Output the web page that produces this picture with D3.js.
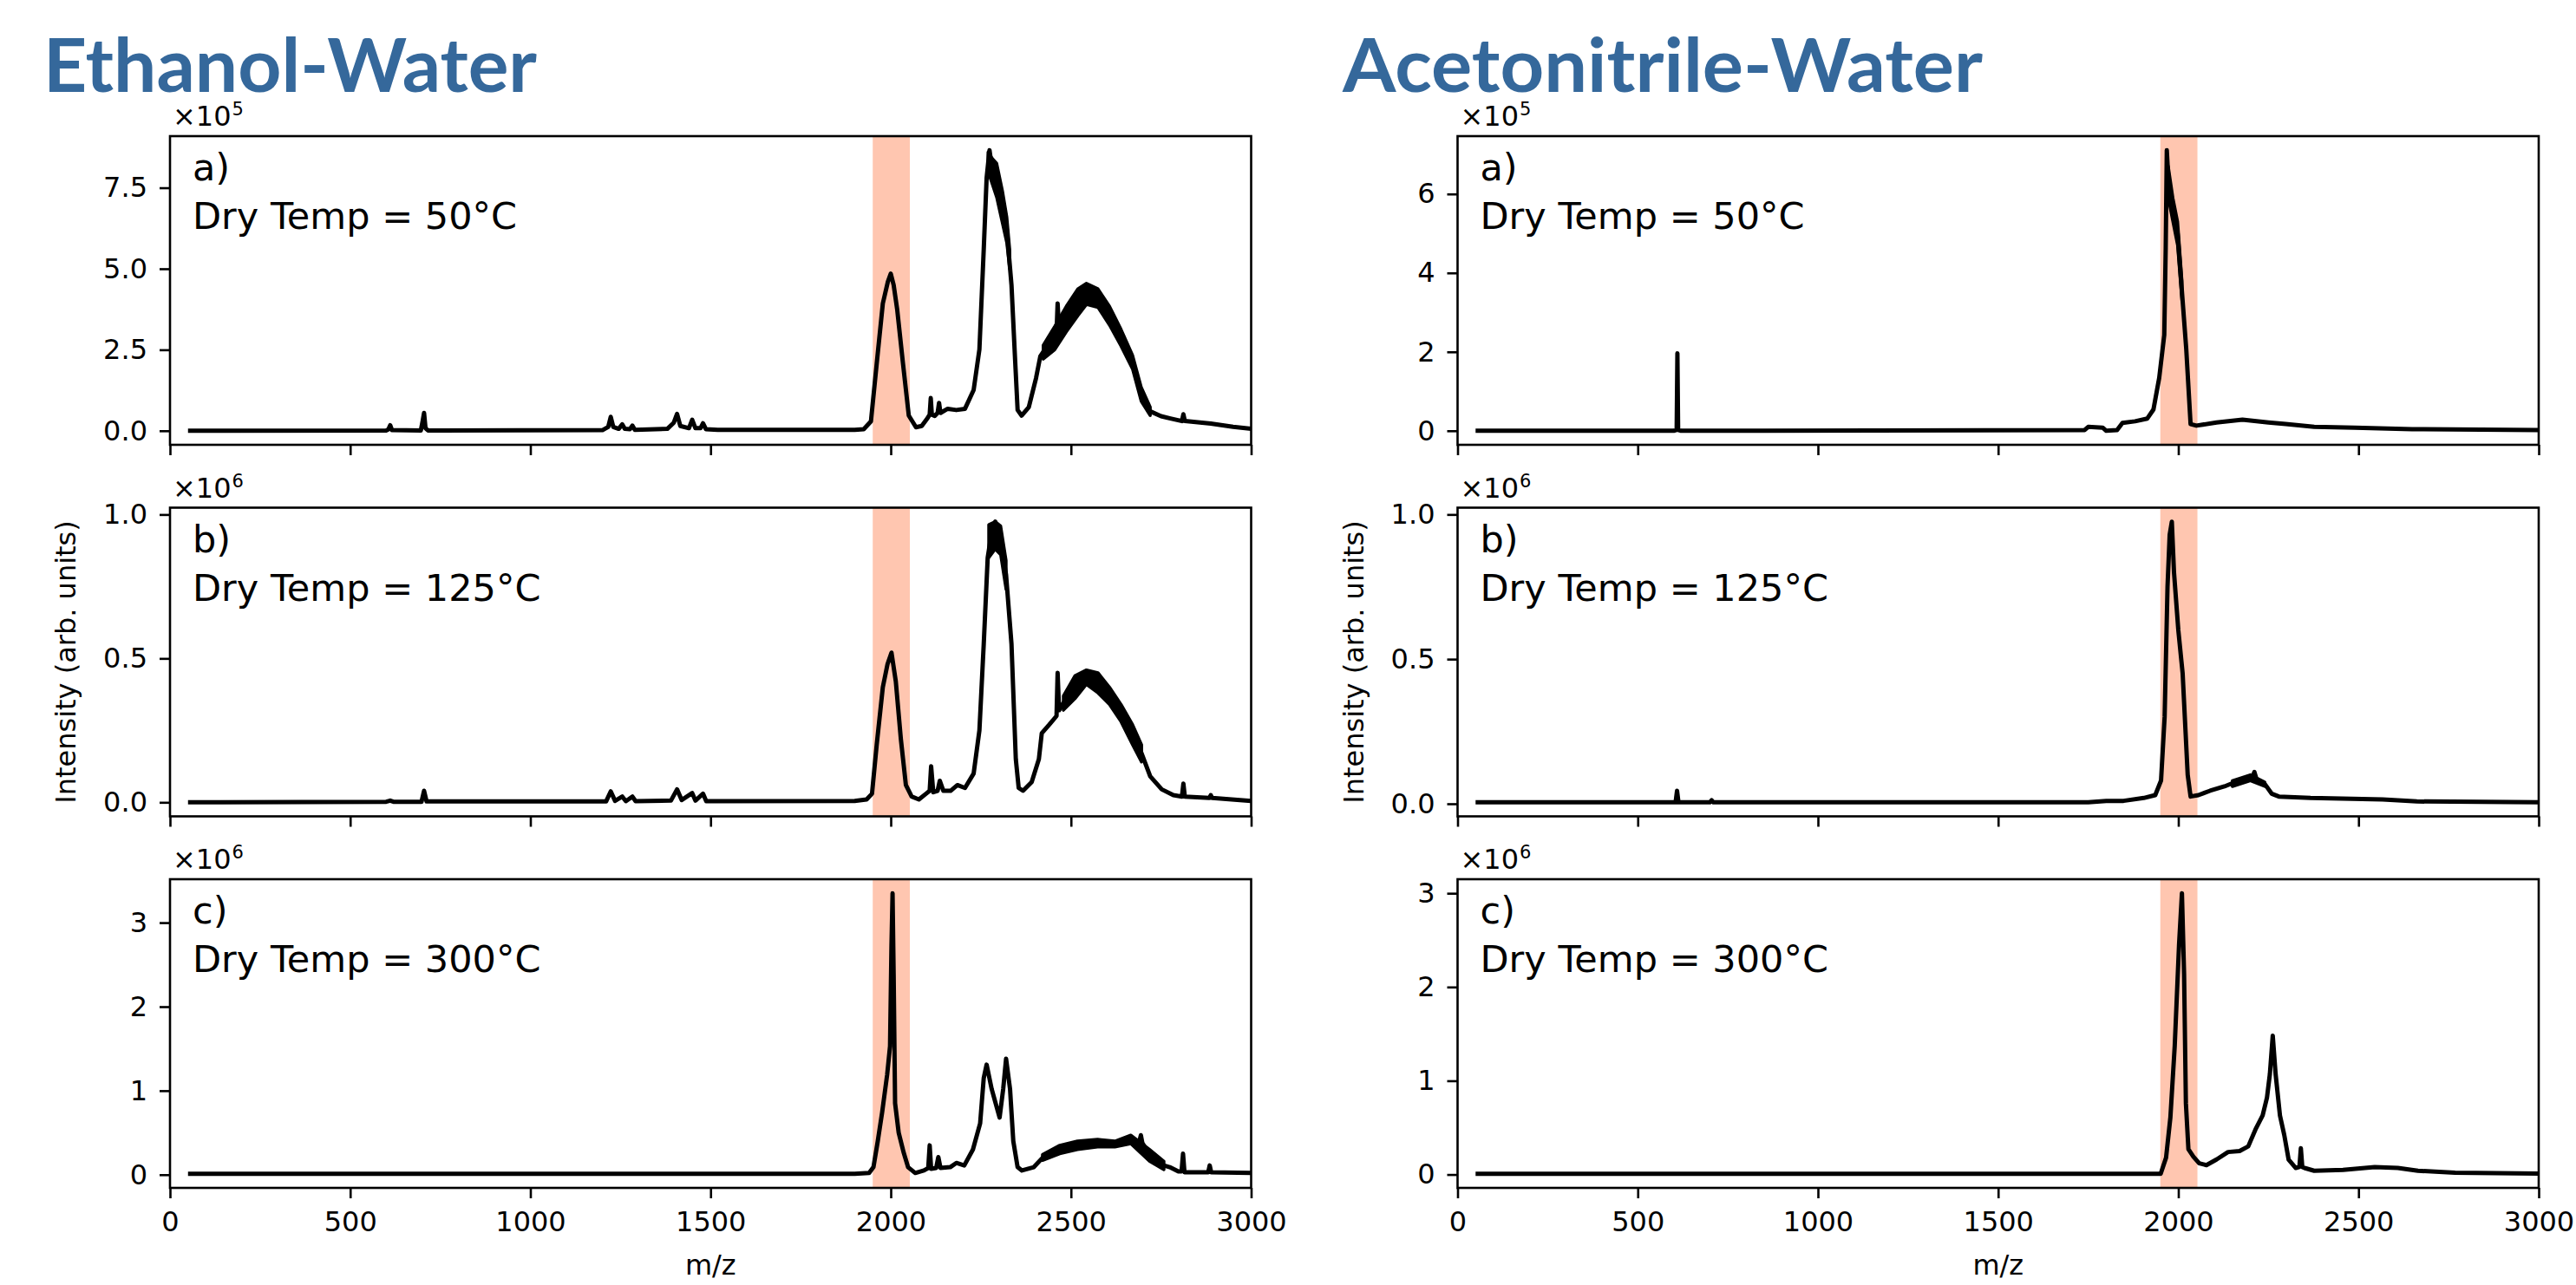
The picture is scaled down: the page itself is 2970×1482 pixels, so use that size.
<!DOCTYPE html>
<html>
<head>
<meta charset="utf-8">
<script src="https://cdn.jsdelivr.net/npm/d3@7"></script>
<style>
  body { margin: 0; background: #fff; }
  svg { display: block; }
</style>
</head>
<body>
<svg id="chart"></svg>
<script>
// ---- data ----
var solvents = ["Ethanol-Water", "Acetonitrile-Water"];
var panelLetters = ["a)", "b)", "c)"];
var dryTemps = ["50°C", "125°C", "300°C"];

var mzTicks = [0, 500, 1000, 1500, 2000, 2500, 3000];
var mzTickText = ["0", "500", "1000", "1500", "2000", "2500", "3000"];
var highlight = [1950, 2053];

// exponent of the x10^n offset shown above each panel
var ethanolExp = [5, 6, 6];
var acetoExp = [5, 6, 6];

var ethanolTicks = [[0, 2.5, 5, 7.5], [0, 0.5, 1], [0, 1, 2, 3]];
var ethanolTickText = [["0.0", "2.5", "5.0", "7.5"], ["0.0", "0.5", "1.0"], ["0", "1", "2", "3"]];
var acetoTicks = [[0, 2, 4, 6], [0, 0.5, 1], [0, 1, 2, 3]];
var acetoTickText = [["0", "2", "4", "6"], ["0.0", "0.5", "1.0"], ["0", "1", "2", "3"]];

// spectra: [m/z, intensity in units of 10^exp]
var ethanol50 = [[50,0],[600,0.01],[606,0.04],[611,0.17],[616,0.02],[696,0.01],[701,0.3],[705,0.55],[709,0.08],[716,0.01],
  [1200,0.02],[1216,0.12],[1223,0.43],[1230,0.12],[1245,0.06],[1255,0.2],[1262,0.06],[1276,0.05],[1283,0.16],[1290,0.03],
  [1380,0.06],[1398,0.25],[1407,0.52],[1416,0.15],[1440,0.08],[1449,0.34],[1458,0.08],[1472,0.08],[1479,0.23],[1487,0.05],
  [1520,0.03],[1900,0.03],[1925,0.05],[1945,0.29],[1961,2.07],[1978,3.93],[1992,4.6],[2000,4.85],[2008,4.5],[2018,3.73],
  [2034,2.07],[2050,0.47],[2070,0.11],[2086,0.15],[2102,0.39],[2108,0.5],[2111,1.01],[2114,0.5],[2122,0.46],[2130,0.55],
  [2134,0.86],[2138,0.55],[2158,0.68],[2182,0.64],[2206,0.68],[2230,1.26],[2246,2.51],[2258,5.6],[2266,7.8],[2274,8.66],
  [2282,8.0],[2294,7.75],[2310,6.9],[2322,6.2],[2335,4.5],[2345,2.2],[2352,0.64],[2363,0.47],[2383,0.73],[2403,1.62],
  [2415,2.3],[2423,2.43],[2447,2.9],[2460,3.0],[2463,3.93],[2467,3.1],[2487,3.45],[2519,3.95],[2543,4.2],[2575,4.1],
  [2607,3.55],[2639,2.87],[2671,2.1],[2695,1.13],[2720,0.6],[2750,0.45],[2776,0.38],[2808,0.3],[2812,0.51],[2816,0.3],
  [2888,0.22],[2950,0.12],[3000,0.06]];
var ethanol50Noise = [
  [[2270,8.0,8.6],[2282,7.6,8.4],[2294,7.2,8.25],[2310,6.4,7.4],[2322,5.8,6.6],[2330,5.0,5.6]],
  [[2423,2.21,2.64],[2455,2.5,3.22],[2487,3.05,3.84],[2519,3.55,4.38],[2543,3.9,4.55],[2575,3.81,4.38],
   [2607,3.26,3.84],[2639,2.61,3.13],[2671,1.9,2.33],[2695,0.91,1.35],[2720,0.47,0.73]]];

var ethanol125 = [[50,0],[600,0.002],[611,0.006],[620,0.002],[698,0.002],[705,0.04],[712,0.003],[1210,0.003],[1223,0.038],
  [1235,0.005],[1255,0.02],[1265,0.004],[1283,0.02],[1292,0.004],[1390,0.006],[1407,0.045],[1420,0.008],[1449,0.032],
  [1458,0.006],[1479,0.03],[1488,0.004],[1900,0.005],[1933,0.01],[1948,0.03],[1961,0.20],[1978,0.40],[1991,0.48],
  [2002,0.52],[2014,0.42],[2028,0.22],[2042,0.06],[2058,0.02],[2078,0.01],[2098,0.03],[2108,0.04],[2112,0.125],
  [2118,0.035],[2130,0.04],[2136,0.075],[2146,0.04],[2166,0.04],[2185,0.06],[2206,0.05],[2230,0.10],[2246,0.25],
  [2258,0.55],[2269,0.85],[2279,0.93],[2290,0.975],[2305,0.91],[2320,0.79],[2335,0.55],[2347,0.15],[2355,0.05],
  [2367,0.04],[2391,0.07],[2411,0.15],[2419,0.24],[2440,0.27],[2460,0.3],[2463,0.45],[2467,0.32],[2479,0.345],
  [2511,0.40],[2543,0.435],[2575,0.415],[2607,0.37],[2639,0.31],[2671,0.235],[2696,0.17],[2720,0.09],[2752,0.045],
  [2784,0.025],[2808,0.02],[2812,0.065],[2816,0.02],[2884,0.015],[2888,0.025],[2892,0.015],[3000,0.005]];
var ethanol125Noise = [
  [[2272,0.85,0.965],[2290,0.88,0.975],[2305,0.86,0.96],[2320,0.74,0.84]],
  [[2479,0.32,0.37],[2511,0.36,0.44],[2543,0.41,0.46],[2575,0.38,0.45],[2607,0.34,0.40],[2639,0.28,0.34],
   [2671,0.20,0.27],[2696,0.14,0.20]]];

var ethanol300 = [[50,0.01],[1900,0.01],[1940,0.02],[1952,0.09],[1964,0.40],[1976,0.74],[1990,1.19],[1998,1.53],
  [2002,2.73],[2005,3.35],[2008,2.39],[2012,0.85],[2022,0.50],[2036,0.26],[2048,0.09],[2068,0.02],[2092,0.05],
  [2104,0.08],[2108,0.35],[2112,0.07],[2126,0.08],[2132,0.21],[2138,0.08],[2165,0.09],[2182,0.14],[2204,0.11],
  [2228,0.30],[2248,0.61],[2258,1.15],[2266,1.31],[2280,1.02],[2302,0.68],[2312,1.02],[2320,1.38],[2331,1.02],
  [2340,0.40],[2352,0.09],[2364,0.05],[2397,0.09],[2421,0.2],[2469,0.3],[2518,0.35],[2574,0.37],[2622,0.37],
  [2666,0.42],[2690,0.40],[2694,0.47],[2698,0.38],[2718,0.23],[2758,0.11],[2774,0.09],[2798,0.04],[2807,0.04],
  [2811,0.25],[2815,0.03],[2881,0.03],[2885,0.11],[2889,0.03],[3000,0.02]];
var ethanol300Noise = [
  [[2421,0.17,0.24],[2469,0.25,0.35],[2518,0.30,0.40],[2574,0.33,0.42],[2622,0.33,0.40],[2666,0.37,0.47],
   [2718,0.16,0.30],[2758,0.06,0.16]]];

var aceto50 = [[50,0],[600,0],[608,0.02],[610,1.96],[612,0.02],[620,0],[1740,0.02],[1750,0.1],[1790,0.08],[1800,0.0],
  [1830,0.02],[1845,0.2],[1880,0.24],[1914,0.31],[1931,0.54],[1947,1.34],[1961,2.43],[1965,4.63],[1968,7.11],
  [1974,6.09],[1986,5.58],[1998,4.99],[2010,3.53],[2022,2.07],[2034,0.17],[2050,0.13],[2106,0.21],[2178,0.28],
  [2250,0.21],[2298,0.17],[2377,0.10],[2489,0.08],[2649,0.04],[3000,0.02]];
var aceto50Noise = [[[1972,5.9,6.7],[1985,5.3,5.9],[1998,4.7,5.3],[2010,3.3,3.8]]];

var aceto125 = [[50,0.005],[605,0.005],[609,0.045],[613,0.005],[700,0.005],[705,0.012],[710,0.005],[1750,0.005],
  [1800,0.01],[1848,0.01],[1904,0.02],[1936,0.03],[1952,0.08],[1962,0.30],[1970,0.75],[1976,0.93],[1982,0.975],
  [1988,0.80],[2000,0.60],[2012,0.45],[2026,0.10],[2034,0.025],[2056,0.03],[2088,0.045],[2128,0.06],[2168,0.08],
  [2192,0.09],[2205,0.09],[2211,0.11],[2217,0.085],[2223,0.08],[2239,0.07],[2259,0.035],[2279,0.025],[2367,0.02],
  [2567,0.015],[2662,0.008],[3000,0.005]];
var aceto125Noise = [[[2150,0.06,0.08],[2200,0.08,0.1],[2240,0.06,0.075]]];

var aceto300 = [[50,0.007],[1951,0.007],[1966,0.18],[1978,0.61],[1990,1.37],[2002,2.45],[2010,3.0],[2016,2.14],
  [2021,0.76],[2028,0.27],[2042,0.19],[2058,0.12],[2078,0.10],[2106,0.16],[2138,0.24],[2170,0.25],[2194,0.30],
  [2214,0.48],[2234,0.63],[2246,0.82],[2254,1.07],[2262,1.48],[2270,1.07],[2282,0.63],[2294,0.42],[2306,0.16],
  [2326,0.07],[2336,0.08],[2340,0.28],[2344,0.08],[2350,0.07],[2377,0.04],[2457,0.05],[2545,0.08],[2609,0.07],
  [2665,0.04],[2768,0.02],[3000,0.01]];
var aceto300Noise = [];

// ---- layout ----
var W = 2970, H = 1482;
var colX = [196, 1680.5], plotW = 1246.5;
var rowY = [157, 585.5, 1014], plotH = 356;
var font = "DejaVu Sans, sans-serif";

var svg = d3.select("#chart").attr("width", W).attr("height", H);

var panels = [];
[ethanol50, ethanol125, ethanol300].forEach(function (d, i) {
  panels.push({ col: 0, row: i, data: d, noise: [ethanol50Noise, ethanol125Noise, ethanol300Noise][i],
    ticks: ethanolTicks[i], tickText: ethanolTickText[i], exp: ethanolExp[i] });
});
[aceto50, aceto125, aceto300].forEach(function (d, i) {
  panels.push({ col: 1, row: i, data: d, noise: [aceto50Noise, aceto125Noise, aceto300Noise][i],
    ticks: acetoTicks[i], tickText: acetoTickText[i], exp: acetoExp[i] });
});

panels.forEach(drawPanel);

function drawPanel(p) {
  var g = svg.append("g")
    .attr("transform", "translate(" + colX[p.col] + "," + rowY[p.row] + ")");

  var x = d3.scaleLinear().domain([0, 3000]).range([0, plotW]);
  var lo = d3.min(p.data, function (d) { return d[1]; });
  var hi = d3.max(p.data, function (d) { return d[1]; });
  var pad = 0.05 * (hi - lo);   // matplotlib-style 5% margins
  var y = d3.scaleLinear().domain([lo - pad, hi + pad]).range([plotH, 0]);

  // highlighted m/z window
  g.append("rect")
    .attr("x", x(highlight[0]))
    .attr("width", x(highlight[1]) - x(highlight[0]))
    .attr("y", 0)
    .attr("height", plotH)
    .attr("fill", "#ffc6b0");

  var line = d3.line()
    .x(function (d) { return x(d[0]); })
    .y(function (d) { return y(d[1]); });

  g.append("path")
    .datum(p.data)
    .attr("d", line)
    .attr("fill", "none")
    .attr("stroke", "#000")
    .attr("stroke-width", 5)
    .attr("stroke-linejoin", "round");

  // noisy stretches drawn as a filled band
  var band = d3.area()
    .x(function (d) { return x(d[0]); })
    .y0(function (d) { return y(d[1]); })
    .y1(function (d) { return y(d[2]); });

  p.noise.forEach(function (seg) {
    g.append("path")
      .datum(seg)
      .attr("d", band)
      .attr("fill", "#000")
      .attr("stroke", "#000")
      .attr("stroke-width", 3.5)
      .attr("stroke-linejoin", "round");
  });

  // y axis
  var yAxis = g.append("g")
    .call(d3.axisLeft(y)
      .tickValues(p.ticks)
      .tickFormat(function (d, i) { return p.tickText[i]; })
      .tickSize(12)
      .tickPadding(14)
      .tickSizeOuter(0));
  yAxis.select(".domain").remove();
  yAxis.selectAll("line").attr("stroke-width", 2.6);
  yAxis.selectAll("text").attr("font-family", font).attr("font-size", 32).attr("fill", "#000");

  // x axis
  var bottom = p.row === 2;
  var xAxis = g.append("g")
    .attr("transform", "translate(0," + plotH + ")")
    .call(d3.axisBottom(x)
      .tickValues(mzTicks)
      .tickFormat(function (d, i) { return bottom ? mzTickText[i] : ""; })
      .tickSize(12)
      .tickPadding(15)
      .tickSizeOuter(0));
  xAxis.select(".domain").remove();
  xAxis.selectAll("line").attr("stroke-width", 2.6);
  xAxis.selectAll("text").attr("font-family", font).attr("font-size", 32).attr("fill", "#000");

  // frame
  g.append("rect")
    .attr("width", plotW)
    .attr("height", plotH)
    .attr("fill", "none")
    .attr("stroke", "#000")
    .attr("stroke-width", 2.6);

  // x10^n offset, base and exponent as two texts side by side
  var base = g.append("text")
    .attr("x", 3)
    .attr("y", -12)
    .attr("font-family", font)
    .attr("font-size", 32)
    .text("×10");
  var baseW = base.node().getComputedTextLength();
  g.append("text")
    .attr("x", 3 + baseW + 1)
    .attr("y", -24)
    .attr("font-family", font)
    .attr("font-size", 21)
    .text(p.exp);

  // panel annotation
  var note = g.append("text")
    .attr("font-family", font)
    .attr("font-size", 43);
  note.append("tspan").attr("x", 26).attr("y", 51).text(panelLetters[p.row]);
  note.append("tspan").attr("x", 26).attr("y", 107).text("Dry Temp = " + dryTemps[p.row]);

  if (bottom) {
    g.append("text")
      .attr("x", plotW / 2)
      .attr("y", 456)
      .attr("text-anchor", "middle")
      .attr("font-family", font)
      .attr("font-size", 32)
      .text("m/z");
  }
  if (p.row === 1) {
    g.append("text")
      .attr("transform", "translate(-109," + plotH / 2 + ") rotate(-90)")
      .attr("text-anchor", "middle")
      .attr("font-family", font)
      .attr("font-size", 32)
      .text("Intensity (arb. units)");
  }
}

// column titles
var titleX = [50, 1548], titleW = [569, 738];
solvents.forEach(function (s, i) {
  svg.append("text")
    .attr("x", titleX[i])
    .attr("y", 106)
    .attr("font-family", "Lato, sans-serif")
    .attr("font-weight", 700)
    .attr("font-size", 86)
    .attr("fill", "#35689b")
    .attr("textLength", titleW[i])
    .attr("lengthAdjust", "spacingAndGlyphs")
    .text(s);
});
</script>
</body>
</html>
